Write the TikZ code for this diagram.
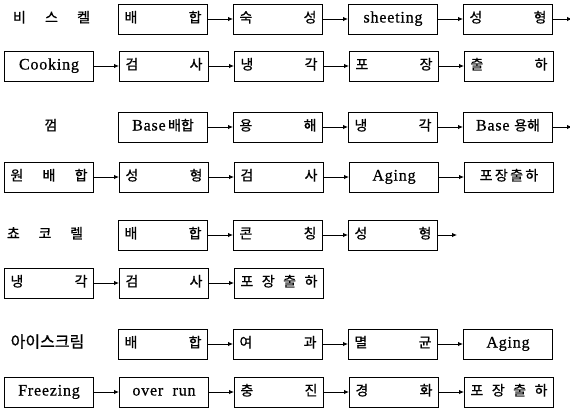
\documentclass[tikz,border=0pt]{standalone}
\usepackage{fontspec}
\setmainfont{Liberation Serif}
\newfontfamily\krfont[FakeBold=0.8]{Noto Sans CJK KR}
\usepackage{tikz}
\usetikzlibrary{
    arrows.meta,
    positioning
}
\newcommand\la[1]{{\rmfamily\addfontfeatures{LetterSpace=5,FakeBold=0.6}\fontsize{16pt}{18pt}\selectfont #1}}

\begin{document}
\begin{tikzpicture}[
        x=1pt, y=-1pt,
        node distance=25pt,
        box/.style={
            rectangle,
            draw,
            line width=1pt,
            minimum width=89pt,
            minimum height=30pt,
            text width=77pt,
            text height=10pt,
            text depth=3pt,
            inner xsep=6pt,
            align=left,
            font=\krfont\fontsize{14pt}{16pt}\selectfont
        },
        mid/.style={
            box,
            align=center
        },
        product/.style={
            text width=#1,
            text height=10pt,
            text depth=3pt,
            inner sep=0pt,
            align=left,
            font=\krfont\fontsize{14pt}{16pt}\selectfont
        },
        line/.style={
            -{Latex[length=5pt,width=4.5pt]},
            line width=0.9pt
        }
    ]

    \useasboundingbox (0,0) rectangle (570,407);

    % biscuit
    \node[product=77pt] (biscuit) at (51.5,19) {비\hfill 스\hfill 켈};
    \node[box, anchor=west] (bmix) at (118,19) {배\hfill 합};
    \node[box, right=of bmix] (bage) {숙\hfill 성};
    \node[mid, right=of bage] (bsheet) {\la{sheeting}};
    \node[box, right=of bsheet] (bform) {성\hfill 형};
    \coordinate[right=19pt of bform] (bend);

    \node[mid, anchor=west] (bcook) at (4,66) {\la{Cooking}};
    \node[box, right=of bcook] (bcheck) {검\hfill 사};
    \node[box, right=of bcheck] (bcool) {냉\hfill 각};
    \node[box, right=of bcool] (bpack) {포\hfill 장};
    \node[box, right=of bpack] (bship) {출\hfill 하};

    % gum
    \node[product=14pt, align=center] (gum) at (51,127) {껌};
    \node[mid, anchor=west] (gbase) at (118,127) {\la{Base}\,배합};
    \node[box, right=of gbase] (gmelt) {용\hfill 해};
    \node[box, right=of gmelt] (gcool) {냉\hfill 각};
    \node[mid, right=of gcool] (gbmelt) {\la{Base} 용해};
    \coordinate[right=19pt of gbmelt] (gend);

    \node[box, anchor=west] (gmix) at (4,177) {원\hfill 배\hfill 합};
    \node[box, right=of gmix] (gform) {성\hfill 형};
    \node[box, right=of gform] (gcheck) {검\hfill 사};
    \node[mid, right=of gcheck] (gage) {\la{Aging}};
    \node[mid, right=of gage] (gpack) {포\,장\,출\,하};

    % chocolate
    \node[product=76pt] (choco) at (45,235) {쵸\hfill 코\hfill 렐};
    \node[box, anchor=west] (cmix) at (118,235) {배\hfill 합};
    \node[box, right=of cmix] (cconch) {콘\hfill 칭};
    \node[box, right=of cconch] (cform) {성\hfill 형};
    \coordinate[right=19pt of cform] (cend);

    \node[box, anchor=west] (ccool) at (4,283) {냉\hfill 각};
    \node[box, right=of ccool] (ccheck) {검\hfill 사};
    \node[box, right=of ccheck] (cpack) {포\hfill 장\hfill 출\hfill 하};

    % ice cream
    \node[product=82pt, align=center, font=\krfont\fontsize{16pt}{18pt}\selectfont]
        (ice) at (47.5,344) {아이스크림};
    \node[box, anchor=west] (imix) at (118,344) {배\hfill 합};
    \node[box, right=of imix] (ifilter) {여\hfill 과};
    \node[box, right=of ifilter] (isteril) {멸\hfill 균};
    \node[mid, right=of isteril] (iage) {\la{Aging}};

    \node[mid, anchor=west] (ifreeze) at (4,392) {\la{Freezing}};
    \node[mid, right=of ifreeze] (iover) {\la{over\ \ run}};
    \node[box, right=of iover] (ifill) {충\hfill 진};
    \node[box, right=of ifill] (iharden) {경\hfill 화};
    \node[box, right=of iharden] (ipack) {포\hfill 장\hfill 출\hfill 하};

    \foreach \a/\b in {bmix/bage, bage/bsheet, bsheet/bform, bform/bend,
                       bcook/bcheck, bcheck/bcool, bcool/bpack, bpack/bship}
        \draw[line] (\a) -- (\b);

    \foreach \a/\b in {gbase/gmelt, gmelt/gcool, gcool/gbmelt, gbmelt/gend,
                       gmix/gform, gform/gcheck, gcheck/gage, gage/gpack}
        \draw[line] (\a) -- (\b);

    \foreach \a/\b in {cmix/cconch, cconch/cform, cform/cend,
                       ccool/ccheck, ccheck/cpack}
        \draw[line] (\a) -- (\b);

    \foreach \a/\b in {imix/ifilter, ifilter/isteril, isteril/iage,
                       ifreeze/iover, iover/ifill, ifill/iharden, iharden/ipack}
        \draw[line] (\a) -- (\b);

\end{tikzpicture}
\end{document}
